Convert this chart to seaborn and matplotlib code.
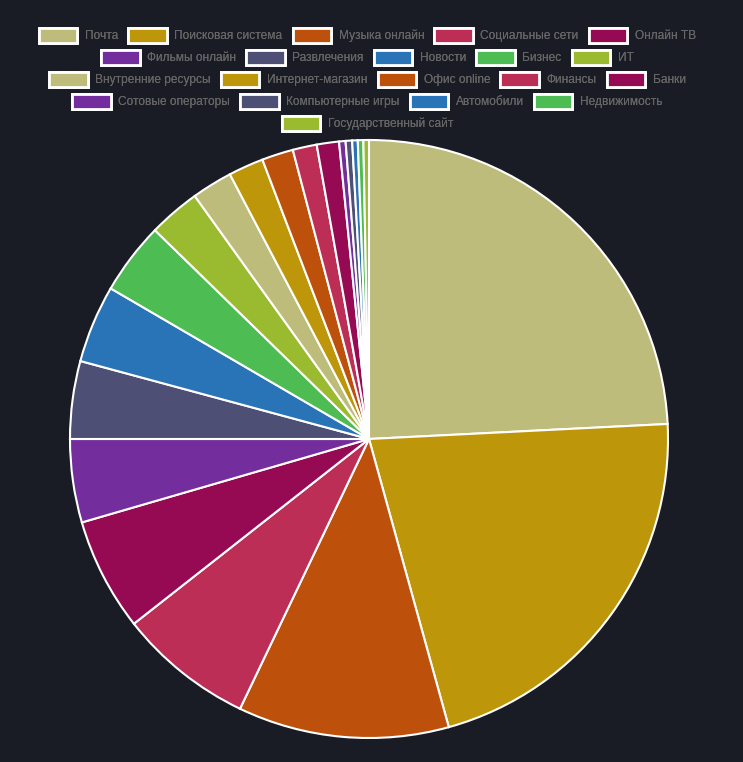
import matplotlib
matplotlib.use("Agg")
import matplotlib.pyplot as plt
import matplotlib.patches as mpatches
import seaborn as sns

categories = ["Почта", "Поисковая система", "Музыка онлайн", "Социальные сети", "Онлайн ТВ",
              "Фильмы онлайн", "Развлечения", "Новости", "Бизнес", "ИТ",
              "Внутренние ресурсы", "Интернет-магазин", "Офис online", "Финансы", "Банки",
              "Сотовые операторы", "Компьютерные игры", "Автомобили", "Недвижимость",
              "Государственный сайт"]
values = [24.2, 21.5, 11.4, 7.3, 6.1,
          4.5, 4.2, 4.2, 3.9, 2.8,
          2.2, 1.9, 1.7, 1.3, 1.2,
          0.35, 0.35, 0.3, 0.3, 0.3]
base_colors = ["#BDBC7A", "#BD9609", "#BD500B", "#BC2E55", "#960A53",
               "#742D9C", "#4E4F75", "#2874B6", "#4DBC52", "#9ABA30"]
legend_rows = [5, 5, 5, 4, 1]

bg = "#1A1C25"
sns.set_theme(style="dark")
plt.rcParams["font.family"] = ["Liberation Sans", "DejaVu Sans"]

palette = sns.color_palette(base_colors, n_colors=len(base_colors))
colors = [palette[i % len(palette)] for i in range(len(categories))]

W, H = 743, 762
fig = plt.figure(figsize=(W / 100, H / 100), dpi=100, facecolor=bg)

cx, cy, r = 369, 439, 299
ax = fig.add_axes([(cx - r) / W, (H - cy - r) / H, 2 * r / W, 2 * r / H])
ax.set_facecolor(bg)
ax.pie(values, colors=colors, startangle=90, counterclock=False, radius=1,
       wedgeprops=dict(edgecolor="white", linewidth=1.5))
ax.set_xlim(-1.0, 1.0)
ax.set_ylim(-1.0, 1.0)
ax.set_aspect("equal")
ax.axis("off")

row_y = [35.5, 57.5, 79.5, 101.5, 123.5]
idx = 0
for n, y in zip(legend_rows, row_y):
    handles = []
    for i in range(idx, idx + n):
        handles.append(mpatches.Patch(facecolor=colors[i], edgecolor="white",
                                      linewidth=2, label=categories[i]))
    idx += n
    leg = fig.legend(handles=handles, loc="center", bbox_to_anchor=(367.5 / W, 1 - y / H),
                     ncol=n, frameon=False, fontsize=8.6, handlelength=3.2,
                     handleheight=1.6, handletextpad=0.65, columnspacing=0.85,
                     borderpad=0, borderaxespad=0)
    for t in leg.get_texts():
        t.set_color("#666666")
    fig.add_artist(leg)

fig.savefig("out.png", dpi=100, facecolor=bg)
